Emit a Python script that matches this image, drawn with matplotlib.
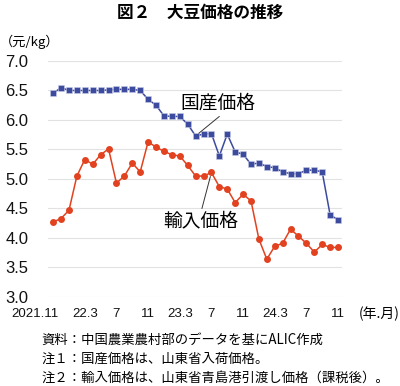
import matplotlib.pyplot as plt
from matplotlib.transforms import ScaledTranslation

plt.rcParams['font.family'] = ['Liberation Sans', 'Noto Sans CJK JP', 'DejaVu Sans']

# monthly prices, 2021.11 - 2024.11 (yuan/kg)
domestic = [6.45, 6.55, 6.50, 6.50, 6.50, 6.50, 6.50, 6.51, 6.52, 6.52, 6.52, 6.50,
            6.35, 6.25, 6.07, 6.06, 6.06, 5.93, 5.73, 5.76, 5.77, 5.39, 5.76, 5.46,
            5.42, 5.25, 5.27, 5.21, 5.19, 5.12, 5.09, 5.09, 5.15, 5.15, 5.12, 4.39, 4.31]
imported = [4.27, 4.33, 4.47, 5.05, 5.33, 5.25, 5.41, 5.51, 4.93, 5.05, 5.27, 5.12,
             5.63, 5.54, 5.47, 5.41, 5.39, 5.23, 5.05, 5.05, 5.11, 4.87, 4.83, 4.60,
             4.74, 4.63, 3.98, 3.64, 3.86, 3.91, 4.15, 4.03, 3.91, 3.76, 3.89, 3.84, 3.84]
months = list(range(len(domestic)))
tick_pos = [0, 4, 8, 12, 16, 20, 24, 28, 32, 36]
tick_labels = ['2021.11', '22.3', '7', '11', '23.3', '7', '11', '24.3', '7', '11']
yticks = [3.0, 3.5, 4.0, 4.5, 5.0, 5.5, 6.0, 6.5, 7.0]

blue = '#3d4b9e'
red = '#e2421f'
jp = ['Noto Sans CJK JP', 'DejaVu Sans']

fig = plt.figure(figsize=(4, 3.86), dpi=100)
ax = fig.add_axes([0.12, 0.2306, 0.735, 0.6114])

ax.plot(months, domestic, color=blue, lw=1.1, marker='s', ms=4.6,
        mfc=blue, mec='#c8cce8', mew=0.4, zorder=3)
ax.plot(months, imported, color=red, lw=1.1, marker='o', ms=5,
        mfc=red, mec=red, mew=0, zorder=3)

ax.set_xlim(-0.65, 36.5)
ax.set_ylim(3.0, 7.0)
ax.set_yticks(yticks)
ax.set_yticklabels([f'{v:.1f}' for v in yticks], fontsize=12)
ax.set_xticks(tick_pos)
ax.set_xticklabels(tick_labels, fontsize=9.5)
ax.tick_params(axis='both', length=0, colors='#111111')
ax.tick_params(axis='y', pad=14)
ax.tick_params(axis='x', pad=8)
first = ax.get_xticklabels()[0]
first.set_horizontalalignment('right')
first.set_transform(first.get_transform() + ScaledTranslation(0.05, 0, fig.dpi_scale_trans))
ax.grid(axis='y', color='#e2e2e2', lw=0.8)
ax.set_axisbelow(True)
for s in ax.spines.values():
    s.set_visible(False)

# series labels with leader lines
ax.text(20.8, 6.29, '国産価格', fontsize=13.5, family=jp, ha='center', va='center')
ax.annotate('', xy=(18, domestic[18]), xytext=(21.0, 6.06),
            arrowprops=dict(arrowstyle='-', color='#333333', lw=0.7, shrinkA=0, shrinkB=3))
ax.text(18.6, 4.29, '輸入価格', fontsize=13.5, family=jp, ha='center', va='center')
ax.annotate('', xy=(20, imported[20]), xytext=(18.8, 4.5),
            arrowprops=dict(arrowstyle='-', color='#333333', lw=0.7, shrinkA=0, shrinkB=3))

fig.text(0.5, 0.966, '図２　大豆価格の推移', fontsize=12, fontweight='bold',
         family=jp, ha='center', va='center')
fig.text(0.0, 1 - 42 / 386, '（元/kg）', fontsize=9.5, family=jp, ha='left', va='center')
fig.text(0.998, 1 - 314 / 386, '(年.月)', fontsize=10, family=jp, ha='right', va='center')

notes = ['資料：中国農業農村部のデータを基にALIC作成',
         '注１：国産価格は、山東省入荷価格。',
         '注２：輸入価格は、山東省青島港引渡し価格（課税後）。']
for i, n in enumerate(notes):
    fig.text(0.103, 1 - (340 + 19 * i) / 386, n, fontsize=9.6, family=jp,
             ha='left', va='center')

fig.savefig('out.png', dpi=100)
